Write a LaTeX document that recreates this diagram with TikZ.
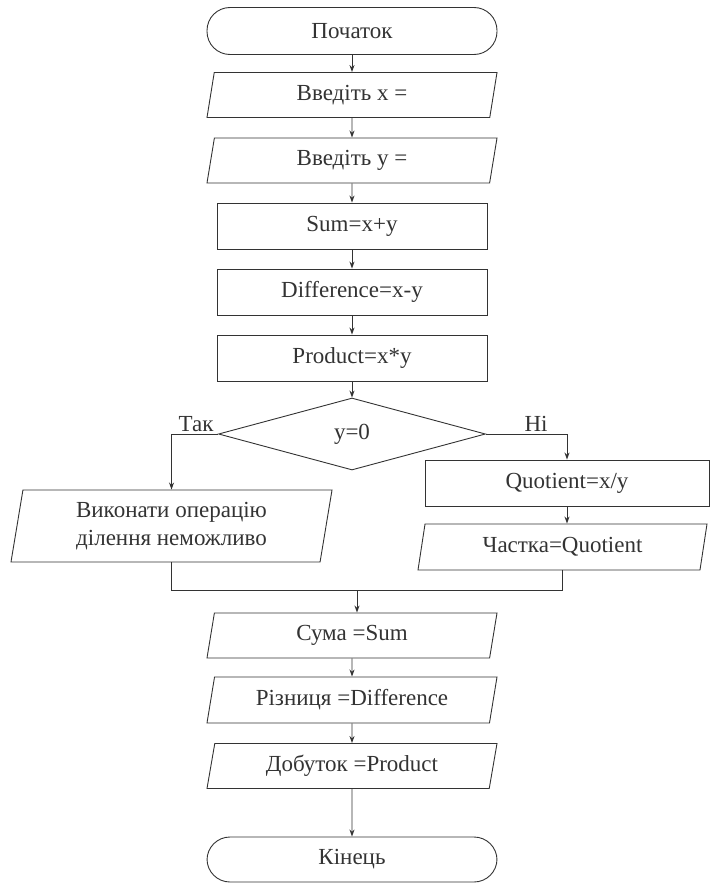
\documentclass[tikz,border=0pt]{standalone}
\usepackage{fontspec}
\setmainfont{Liberation Serif}
\usetikzlibrary{shapes.geometric, arrows.meta}
\tikzset{
  term/.style={draw, rectangle, rounded corners=23pt, minimum width=290pt, minimum height=47pt},
  io/.style={draw, trapezium, trapezium left angle=73, trapezium right angle=107,
    trapezium stretches body, minimum width=290pt, minimum height=45pt, inner sep=2pt},
  proc/.style={draw, rectangle, minimum width=270pt, minimum height=46pt},
  cond/.style={draw, diamond, minimum width=267pt, minimum height=72pt, inner sep=0pt},
  flow/.style={-{Stealth[length=7pt,width=5pt]}},
}
\begin{document}
\begin{tikzpicture}[x=1pt, y=-1pt, line width=0.9pt, color=black!80, font=\fontsize{23}{28}\selectfont]
    \useasboundingbox (0,0) rectangle (710,883);
    \node[term] (start) at (352,31) {Початок};
    \node[io] (inx) at (352,95) {Введіть x =};
    \node[io] (iny) at (352,160.5) {Введіть y =};
    \node[proc] (sum) at (352,226) {Sum=x+y};
    \node[proc] (diff) at (352,292) {Difference=x-y};
    \node[proc] (prod) at (352,358) {Product=x*y};
    \node[cond] (check) at (352,434) {y=0};
    \node[io, minimum width=321pt, minimum height=72pt, trapezium left angle=77,
      trapezium right angle=103, align=center] (nodiv) at (171.5,526) {Виконати операцію\\ділення неможливо};
    \node[proc, minimum width=284pt] (quot) at (567,483) {Quotient=x/y};
    \node[io, minimum width=289pt, minimum height=46pt] (part) at (562.5,547) {Частка=Quotient};
    \node[io] (outsum) at (352,635.5) {Сума =Sum};
    \node[io, minimum height=46pt] (outdiff) at (352,700) {Різниця =Difference};
    \node[io] (outprod) at (352,766) {Добуток =Product};
    \node[term, minimum height=45pt] (stop) at (352,859.5) {Кінець};
    \node (yes) at (196,424) {Так};
    \node (no) at (536,424) {Ні};
    \coordinate (merge) at (357,590);
    \draw[flow] (start) -- (inx);
    \draw[flow] (inx) -- (iny);
    \draw[flow] (iny) -- (sum);
    \draw[flow] (sum) -- (diff);
    \draw[flow] (diff) -- (prod);
    \draw[flow] (prod) -- (check);
    \draw[flow] (check.west) -| (nodiv.north);
    \draw[flow] (check.east) -| (quot.north);
    \draw[flow] (quot) -- (quot |- part.north);
    \draw (nodiv.south) |- (merge);
    \draw (part.south) |- (merge);
    \draw[flow] (merge) -- (merge |- outsum.north);
    \draw[flow] (outsum) -- (outdiff);
    \draw[flow] (outdiff) -- (outprod);
    \draw[flow] (outprod) -- (stop);
\end{tikzpicture}
\end{document}
